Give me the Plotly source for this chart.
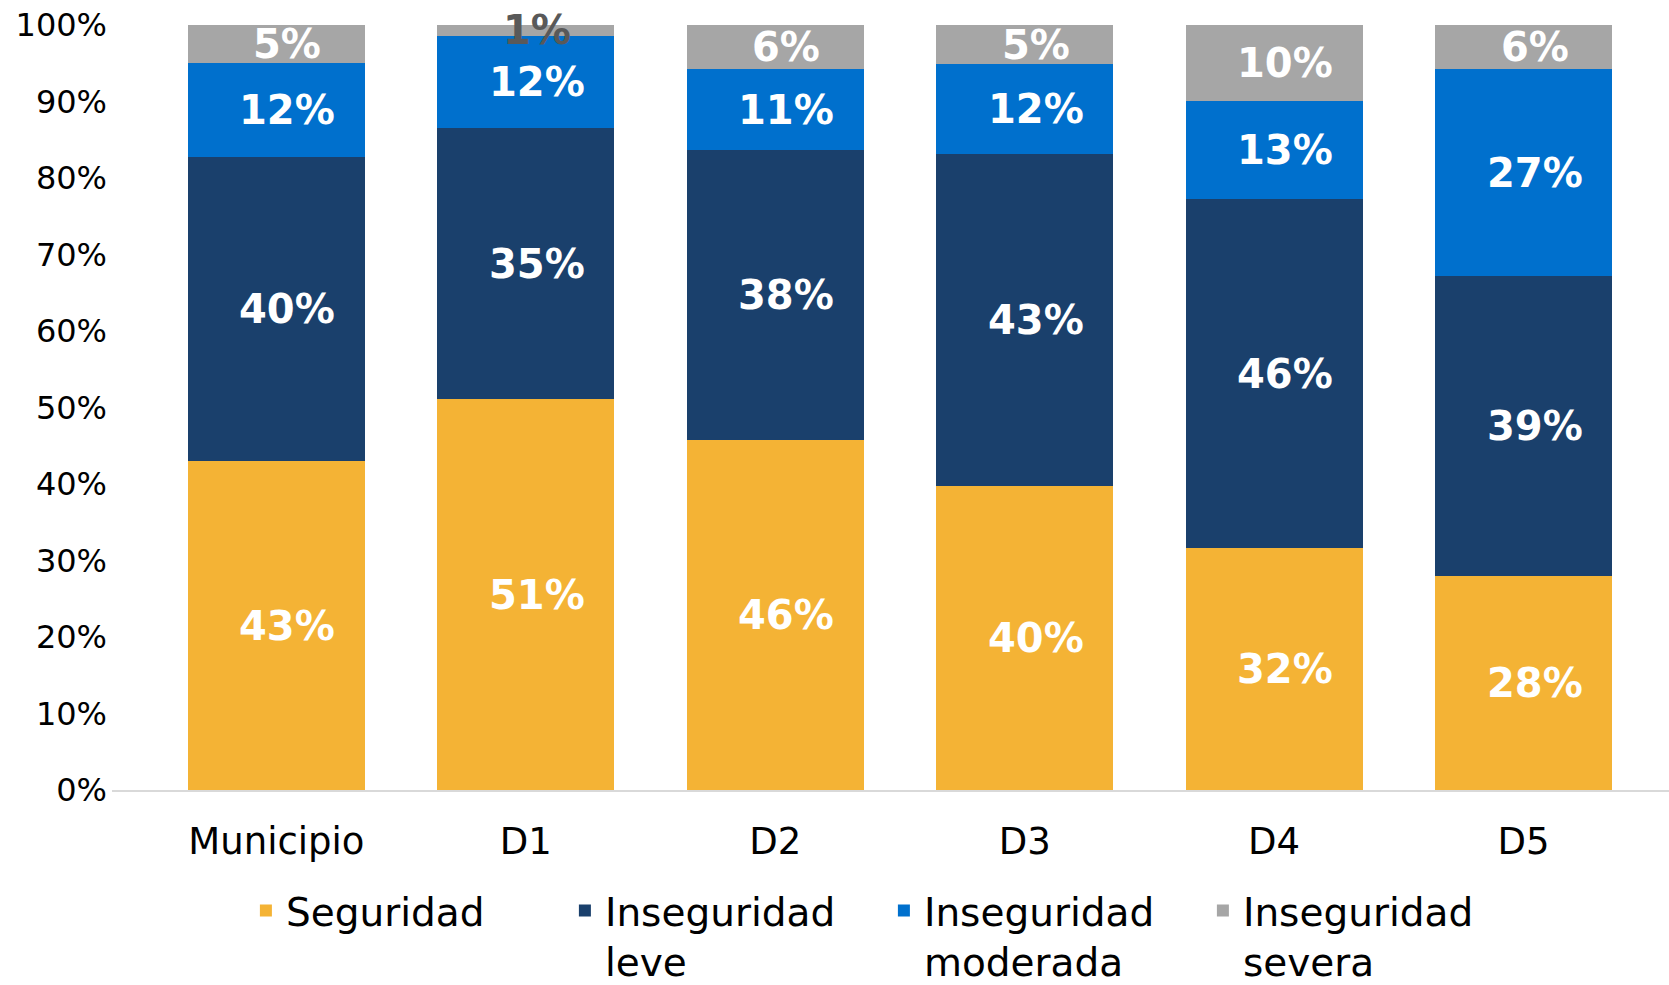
import plotly.graph_objects as go

categories = ["Municipio", "D1", "D2", "D3", "D4", "D5"]
seguridad = [43.0, 51.1, 45.7, 39.8, 31.6, 28.0]
inseg_leve = [39.7, 35.4, 37.9, 43.4, 45.6, 39.2]
inseg_moderada = [12.3, 12.1, 10.6, 11.7, 12.9, 27.0]
inseg_severa = [5.0, 1.4, 5.8, 5.1, 9.9, 5.8]

series_names = ["Seguridad", "Inseguridad<br>leve", "Inseguridad<br>moderada", "Inseguridad<br>severa"]
series_values = [seguridad, inseg_leve, inseg_moderada, inseg_severa]
series_colors = ["#F4B335", "#1A406C", "#0070CD", "#A6A6A6"]
y_tick_vals = [0, 10, 20, 30, 40, 50, 60, 70, 80, 90, 100]
y_tick_text = [f"{v}%" for v in y_tick_vals]

FONT = "DejaVu Sans"

fig = go.Figure()
for name, vals, col in zip(series_names, series_values, series_colors):
    fig.add_trace(go.Bar(
        x=categories, y=vals, name=name, marker=dict(color=col, line=dict(width=0)),
        hoverinfo="skip",
    ))

# data labels at segment centers
base = [0.0] * len(categories)
for si, vals in enumerate(series_values):
    for ci, v in enumerate(vals):
        mid = base[ci] + v / 2
        color = "#FFFFFF"
        if si == 3 and v < 3:
            color = "#595959"
        fig.add_annotation(
            x=categories[ci], y=mid, text=f"{round(v)}%", showarrow=False,
            xref="x", yref="y", xshift=11,
            font=dict(family=FONT, size=40, color=color, weight="bold"),
        )
        base[ci] += v

fig.update_layout(
    barmode="stack",
    bargap=0.29,
    width=1669, height=985,
    margin=dict(l=112, r=0, t=25, b=195, autoexpand=False),
    paper_bgcolor="white", plot_bgcolor="white",
    font=dict(family=FONT, color="#000000"),
    showlegend=True,
    legend=dict(
        orientation="h", x=0.086, xanchor="left", y=-0.116, yanchor="top",
        font=dict(family=FONT, size=39, color="#000000"),
        valign="top", traceorder="normal", itemclick=False,
        entrywidth=274, entrywidthmode="pixels",
    ),
)
fig.update_xaxes(
    range=[-0.659, 5.583], showline=True, linecolor="#D9D9D9", linewidth=2,
    showgrid=False, ticks="", tickfont=dict(family=FONT, size=37, color="#000000"),
    ticklabelstandoff=18,
)
fig.update_yaxes(
    range=[0, 100], tickvals=y_tick_vals, ticktext=y_tick_text,
    showgrid=False, showline=False, zeroline=False, ticks="",
    tickfont=dict(family=FONT, size=32, color="#000000"),
    ticklabelstandoff=4,
)

fig.write_html("out.html", config={"displayModeBar": False},
               post_script="document.body.style.margin='0';")
